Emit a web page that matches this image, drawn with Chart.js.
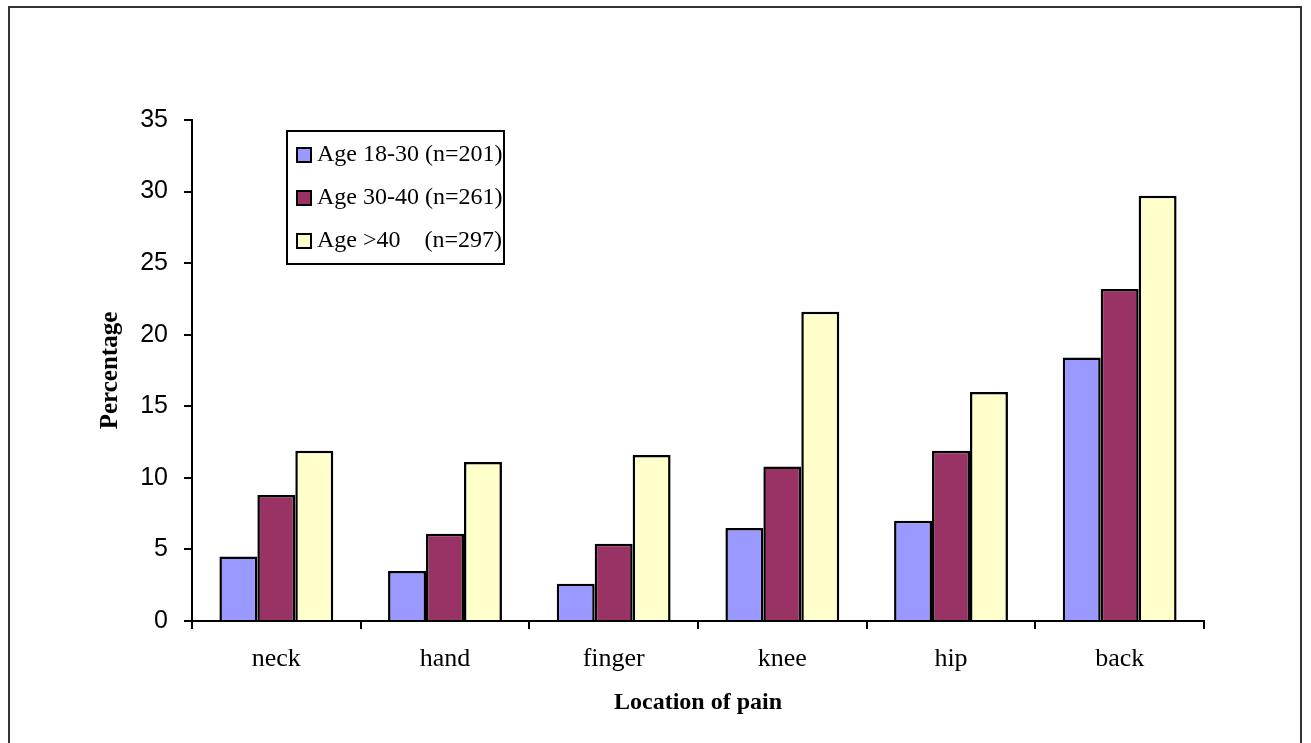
<!DOCTYPE html>
<html>
<head>
<meta charset="utf-8">
<script src="https://cdn.jsdelivr.net/npm/chart.js@4.4.1/dist/chart.umd.min.js"></script>
<style>
    html, body { margin: 0; padding: 0; background: #fff; }
    #wrap { position: relative; width: 1311px; height: 743px; overflow: hidden; }
    #frame {
        position: absolute; left: 8px; top: 6px; width: 1294px; height: 800px;
        border: 2px solid #333; box-sizing: border-box;
    }
    #chart { position: absolute; left: 0; top: 0; }
</style>
</head>
<body>
<div id="wrap">
    <div id="frame"></div>
    <canvas id="chart" width="1311" height="743"></canvas>
</div>
<script>
// ------------------------------------------------------------
//  Datos
// ------------------------------------------------------------
const categories = ['neck', 'hand', 'finger', 'knee', 'hip', 'back'];
const seriesLabels = ['Age 18-30 (n=201)', 'Age 30-40 (n=261)', 'Age >40    (n=297)'];
const age18to30 = [4.5, 3.5, 2.6, 6.5, 7.0, 18.4];
const age30to40 = [8.8, 6.1, 5.4, 10.8, 11.9, 23.2];
const ageOver40 = [11.9, 11.1, 11.6, 21.6, 16.0, 29.7];
const yMin = 0, yMax = 35, yStep = 5;

const colors = ['#9999FF', '#993366', '#FFFFCC'];
const serif = '"Liberation Serif", "Times New Roman", serif';

// ------------------------------------------------------------
//  Leyenda dentro del área del gráfico (recuadro)
// ------------------------------------------------------------
const boxLegend = {
    id: 'boxLegend',
    afterDraw(chart) {
        const ctx = chart.ctx;
        const x = 287, y = 131, w = 217, h = 133;
        ctx.save();
        ctx.fillStyle = '#fff';
        ctx.fillRect(x, y, w, h);
        ctx.strokeStyle = '#000';
        ctx.lineWidth = 2;
        ctx.strokeRect(x, y, w, h);
        ctx.font = '24px ' + serif;
        ctx.textBaseline = 'middle';
        chart.data.datasets.forEach((ds, i) => {
            const cy = y + 24 + i * 43;
            ctx.fillStyle = ds.backgroundColor;
            ctx.fillRect(297, cy - 7, 14, 14);
            ctx.lineWidth = 2;
            ctx.strokeRect(297, cy - 7, 14, 14);
            ctx.fillStyle = '#000';
            ctx.fillText(ds.label, 317, cy);
        });
        ctx.restore();
    }
};

const ctx = document.getElementById('chart').getContext('2d');
new Chart(ctx, {
    type: 'bar',
    data: {
        labels: categories,
        datasets: [age18to30, age30to40, ageOver40].map((d, i) => ({
            label: seriesLabels[i],
            data: d,
            backgroundColor: colors[i],
            borderColor: '#000',
            borderWidth: 2.5,
            categoryPercentage: 0.675,
            barPercentage: 1.0
        }))
    },
    options: {
        responsive: false,
        animation: false,
        layout: { padding: { left: 96, right: 107, top: 120, bottom: 26 } },
        plugins: { legend: { display: false }, tooltip: { enabled: false } },
        scales: {
            x: {
                grid: { offset: true, drawOnChartArea: false, tickLength: 8, color: '#000', lineWidth: 2 },
                border: { display: true, color: '#000', width: 2 },
                ticks: {
                    color: '#000', padding: 15,
                    font: { size: 26, family: serif }
                },
                title: {
                    display: true, text: 'Location of pain', color: '#000', padding: 0,
                    font: { size: 24, weight: 'bold', family: serif }
                },
                afterFit(scale) { scale.height = 96; }
            },
            y: {
                min: yMin, max: yMax,
                grid: { drawOnChartArea: false, tickLength: 8, color: '#000', lineWidth: 2 },
                border: { display: true, color: '#000', width: 2 },
                ticks: {
                    stepSize: yStep, color: '#000', padding: 16,
                    font: { size: 25, family: '"Liberation Sans", Arial, sans-serif' }
                },
                title: {
                    display: true, text: 'Percentage', color: '#000', padding: 0,
                    font: { size: 25, weight: 'bold', family: serif }
                },
                afterFit(scale) { scale.width = 96; }
            }
        }
    },
    plugins: [boxLegend]
});
</script>
</body>
</html>
